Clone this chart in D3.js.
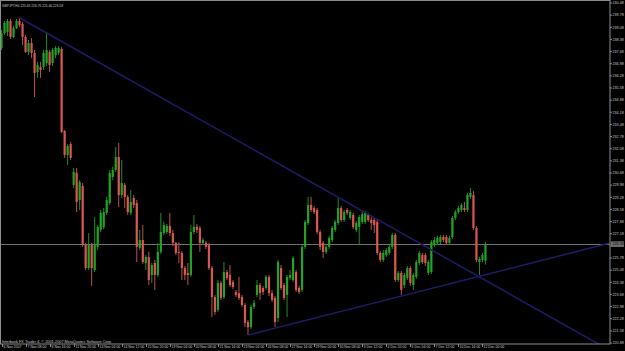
<!DOCTYPE html>
<html><head><meta charset="utf-8">
<script src="https://cdn.jsdelivr.net/npm/d3@7"></script>
<style>html,body{margin:0;padding:0;background:#000;overflow:hidden}</style>
</head><body>
<script>
const symbol = "GBPJPY,H4";
const copyright = "Interbank FX Trader 4, \u00a9 2001-2007 MetaQuotes Software Corp.";
const open = [237.89,238.75,238.81,239.44,238.52,239.04,239.44,239.27,238.52,237.66,238.17,237.60,236.50,236.79,236.79,237.02,237.66,237.02,237.48,237.60,237.83,233.10,231.72,232.35,229.99,230.68,229.12,229.93,226.53,225.20,226.53,225.09,226.42,227.40,227.57,228.38,228.95,230.45,230.85,231.60,229.41,229.99,229.30,228.38,229.24,228.95,226.36,226.82,225.49,225.84,224.80,225.49,224.80,226.13,227.22,227.28,227.63,227.22,226.65,226.13,226.07,225.20,224.92,224.80,227.28,227.57,227.51,226.65,226.65,226.53,225.20,223.53,222.79,224.34,223.53,224.97,224.80,224.40,223.82,223.76,223.53,223.07,222.09,221.80,222.96,223.65,224.22,224.05,224.05,224.69,223.76,223.48,222.32,225.20,224.22,223.65,224.63,224.51,224.97,224.05,223.94,226.42,227.80,228.84,228.66,228.55,227.28,226.65,226.13,226.42,226.82,227.40,227.80,228.66,227.97,228.55,228.09,228.26,227.40,227.57,227.86,227.86,228.26,227.97,227.97,227.86,226.07,225.67,225.95,226.07,226.42,227.11,224.51,224.92,224.22,224.63,225.20,224.22,224.69,225.49,225.95,225.95,224.92,224.97,226.53,226.65,226.70,226.99,226.99,226.65,226.99,228.09,228.43,228.55,228.66,228.55,229.30,229.41,227.51,225.55,225.67,225.63];
const high = [238.92,239.44,239.56,239.56,239.16,239.56,239.63,239.39,238.64,238.35,238.46,237.77,237.08,237.08,237.77,238.81,237.77,237.89,238.00,238.00,237.94,233.16,232.35,232.47,230.97,230.97,230.28,230.10,226.65,227.22,226.65,228.14,227.68,228.55,228.66,229.30,230.85,231.03,232.18,232.41,231.43,230.10,229.41,229.70,229.41,229.12,227.40,227.68,225.95,226.13,225.49,225.67,226.65,228.38,227.86,227.74,228.38,227.40,226.70,226.70,226.18,225.32,225.49,227.68,228.26,227.74,227.63,226.94,226.76,226.65,225.32,223.65,224.51,224.46,225.55,225.09,225.38,224.51,223.94,224.69,223.65,223.19,222.21,223.07,223.36,224.51,224.34,224.17,224.80,224.80,223.94,223.59,225.67,225.38,224.34,224.80,225.09,225.90,225.09,224.17,226.53,227.97,229.30,229.30,228.78,228.66,227.40,226.76,226.59,227.05,227.63,227.97,229.24,228.78,228.55,228.66,228.55,228.38,227.91,228.26,228.43,228.49,228.38,228.14,228.09,227.97,226.18,226.24,226.36,226.59,227.22,227.22,225.03,225.03,224.92,225.32,225.32,224.92,225.67,226.18,226.07,226.07,225.67,226.82,226.99,227.05,227.11,227.11,227.11,227.05,228.20,228.55,228.78,228.95,229.01,229.53,229.82,229.64,227.63,225.84,226.07,226.70];
const low = [237.77,238.64,238.58,238.41,238.46,238.98,239.10,238.06,237.60,237.48,237.31,235.06,236.16,236.16,236.62,236.85,236.50,236.85,237.31,237.48,232.99,231.55,231.14,231.43,229.82,228.43,228.55,226.42,225.09,225.09,224.17,224.97,226.24,227.28,227.45,228.26,228.84,230.28,230.74,228.72,229.24,228.66,228.26,228.26,228.66,225.55,226.24,225.44,225.09,224.22,224.34,223.94,224.69,226.01,227.11,227.16,227.05,226.47,225.95,225.49,224.51,224.51,224.22,224.69,227.16,227.22,226.13,226.53,226.30,225.09,222.38,222.50,222.67,223.36,223.42,224.51,224.11,223.99,223.53,223.36,222.96,221.80,221.34,221.69,222.84,223.53,223.36,223.65,223.94,223.59,223.25,221.80,222.09,223.94,223.36,222.38,224.51,224.40,223.82,223.71,223.82,226.30,227.68,228.43,228.32,227.16,226.24,225.78,226.01,226.30,226.70,227.28,227.68,227.86,227.86,228.26,227.97,227.45,227.28,226.53,227.74,227.74,227.86,227.40,227.22,225.95,225.55,225.55,225.84,225.95,226.30,224.40,224.40,223.65,224.05,224.51,224.17,223.94,224.57,225.38,225.44,225.32,224.80,224.86,226.42,226.53,226.59,226.70,226.53,226.53,226.88,227.97,228.32,228.43,228.43,228.43,229.18,227.40,225.55,224.80,225.55,225.40];
const close = [238.75,239.33,239.44,238.52,239.04,239.44,239.21,238.52,237.66,238.17,237.60,236.45,236.91,236.62,237.60,237.77,236.91,237.77,237.89,237.89,233.04,231.72,232.24,231.55,230.74,229.01,230.16,226.53,225.20,226.53,225.20,226.53,227.57,228.38,228.43,229.12,230.68,230.85,231.60,229.41,230.10,229.30,228.43,229.01,228.84,226.42,226.82,225.55,225.84,224.51,225.38,224.80,226.13,227.28,227.68,227.63,227.22,226.65,226.07,226.07,225.20,224.80,224.80,227.28,227.57,227.40,226.65,226.82,226.42,225.20,223.53,222.67,224.34,223.48,224.97,224.63,224.22,224.11,223.65,223.48,223.07,222.04,221.80,222.96,223.19,224.22,223.76,223.82,224.69,223.76,223.36,222.09,225.55,224.05,223.48,224.69,224.80,225.78,223.94,223.82,226.42,227.86,228.84,228.55,228.43,227.28,226.42,226.13,226.42,226.94,227.51,227.86,228.66,227.97,228.43,228.38,228.43,227.57,227.80,228.14,228.32,228.38,227.97,227.80,227.68,226.07,225.67,226.07,226.24,226.42,227.11,224.51,224.92,223.94,224.80,225.20,224.34,224.80,225.55,226.07,225.55,225.49,225.55,226.70,226.82,226.94,226.99,226.82,226.65,226.94,228.09,228.43,228.66,228.84,228.55,229.41,229.53,227.51,225.67,225.72,225.95,226.58];
const dateLabels = ["6 Nov 2007","7 Nov 08:00","8 Nov 16:00","11 Nov 20:00","13 Nov 04:00","14 Nov 12:00","15 Nov 20:00","19 Nov 04:00","20 Nov 08:00","21 Nov 16:00","23 Nov 04:00","26 Nov 08:00","27 Nov 16:00","29 Nov 00:00","30 Nov 08:00","3 Dec 12:00","4 Dec 20:00","6 Dec 04:00","7 Dec 12:00","10 Dec 16:00","12 Dec 00:00"];
const dateLabelBars = [0,8,16,24,32,40,48,56,64,72,80,88,96,104,112,120,128,136,144,152,160];
const priceLabels = ["240.48","239.78","239.08","238.38","237.68","236.98","236.28","235.58","234.88","234.18","233.48","232.78","232.08","231.38","230.68","229.98","229.28","228.58","227.88","227.18","226.48","225.78","225.08","224.38","223.68","222.98","222.28","221.58","220.88"];
const downTrendBars = [6, 100];
const downTrendPrices = [239.63, 230.45];
const upTrendBars = [82, 159];
const upTrendPrices = [221.34, 224.73];

const W = 625, H = 351;
const plotRight = 610, plotBottom = 344;
const svg = d3.select("body").append("svg").attr("width", W).attr("height", H)
  .style("display","block").style("background","#000");

const n = close.length;
const x = d3.scaleLinear().domain([0, 161]).range([1.5, 1.5 + 3.006 * 161]);
const y = d3.scaleLinear().domain([220.88, 240.48]).range([343, 3]);

svg.append("clipPath").attr("id","plot").append("rect")
  .attr("x",0).attr("y",0).attr("width",plotRight).attr("height",plotBottom);

const font = "'Liberation Sans', Arial, sans-serif";
const txt = "#c8c8c8";
const fs = 3.7;
const fsDate = 3.5;

// bid line
const last = close[n-1];
svg.append("line").attr("x1",0).attr("x2",plotRight).attr("y1",Math.round(y(last))+0.5).attr("y2",Math.round(y(last))+0.5)
  .attr("stroke","#707070").attr("stroke-width",1);

// candles
const g = svg.append("g").attr("clip-path","url(#plot)");
const idx = d3.range(n);
const up = i => close[i] >= open[i];
g.selectAll("line.wick").data(idx).join("line").attr("class","wick")
  .attr("x1", i => x(i)).attr("x2", i => x(i))
  .attr("y1", i => y(high[i])).attr("y2", i => y(low[i]))
  .attr("stroke", i => up(i) ? "#1f8f22" : "#b9524a").attr("stroke-width", 1);
g.selectAll("rect.body").data(idx).join("rect").attr("class","body")
  .attr("x", i => x(i) - 1.1).attr("width", 2.2)
  .attr("y", i => y(Math.max(open[i], close[i])))
  .attr("height", i => Math.max(1, Math.abs(y(open[i]) - y(close[i]))))
  .attr("fill", i => up(i) ? "#22a326" : "#d9574f");

// trend lines (rays to the right)
function ray(bars, prices) {
  const x0 = x(bars[0]), y0 = y(prices[0]), x1 = x(bars[1]), y1 = y(prices[1]);
  const s = (y1 - y0) / (x1 - x0);
  const xe = plotRight;
  g.append("line").attr("x1", x0).attr("y1", y0).attr("x2", xe).attr("y2", y0 + s * (xe - x0))
    .attr("stroke", "#1c1c68").attr("stroke-width", 1.5);
}
ray(downTrendBars, downTrendPrices);
ray(upTrendBars, upTrendPrices);

// frame
svg.append("rect").attr("x",0.5).attr("y",0.5).attr("width",plotRight-0.5).attr("height",plotBottom-0.5)
  .attr("fill","none").attr("stroke","#8c8c8c").attr("stroke-width",1);

// price axis
const bidY = y(last);
priceLabels.forEach(lbl => {
  const v = +lbl, py = y(v);
  svg.append("line").attr("x1",plotRight).attr("x2",plotRight+2).attr("y1",py).attr("y2",py).attr("stroke","#8c8c8c");
  if (Math.abs(py - bidY) < 6) return;
  svg.append("text").attr("x", plotRight + 2.5).attr("y", py).attr("dy","0.35em")
    .attr("font-family", font).attr("font-size", fs).attr("fill", txt).text(lbl);
});
svg.append("rect").attr("x", plotRight+1).attr("y", bidY-2.8).attr("width", 13).attr("height", 5.6).attr("fill","#707070");
svg.append("text").attr("x", plotRight + 2.5).attr("y", bidY).attr("dy","0.35em")
  .attr("font-family", font).attr("font-size", fs).attr("fill", "#000").text(last.toFixed(2));

// time axis
dateLabels.forEach((lbl, k) => {
  const px = Math.round(x(dateLabelBars[k])) + 0.5;
  svg.append("line").attr("x1",px).attr("x2",px).attr("y1",plotBottom).attr("y2",plotBottom+3).attr("stroke","#8c8c8c");
  svg.append("text").attr("x", px + 1).attr("y", plotBottom + 4.4)
    .attr("font-family", font).attr("font-size", fsDate).attr("fill", txt).text(lbl);
});

// header & footer
svg.append("text").attr("x", 2).attr("y", 6.5).attr("font-family", font).attr("font-size", fs).attr("fill", txt)
  .attr("textLength", 61).attr("lengthAdjust", "spacingAndGlyphs")
  .text(`${symbol}  ${open[n-1].toFixed(2)} ${high[n-1].toFixed(2)} ${low[n-1].toFixed(2)} ${close[n-1].toFixed(2)}`);
svg.append("text").attr("x", 2).attr("y", 342.5).attr("font-family", font).attr("font-size", fs).attr("fill", txt)
  .attr("textLength", 110).attr("lengthAdjust", "spacingAndGlyphs")
  .text(copyright);
</script>
</body></html>
